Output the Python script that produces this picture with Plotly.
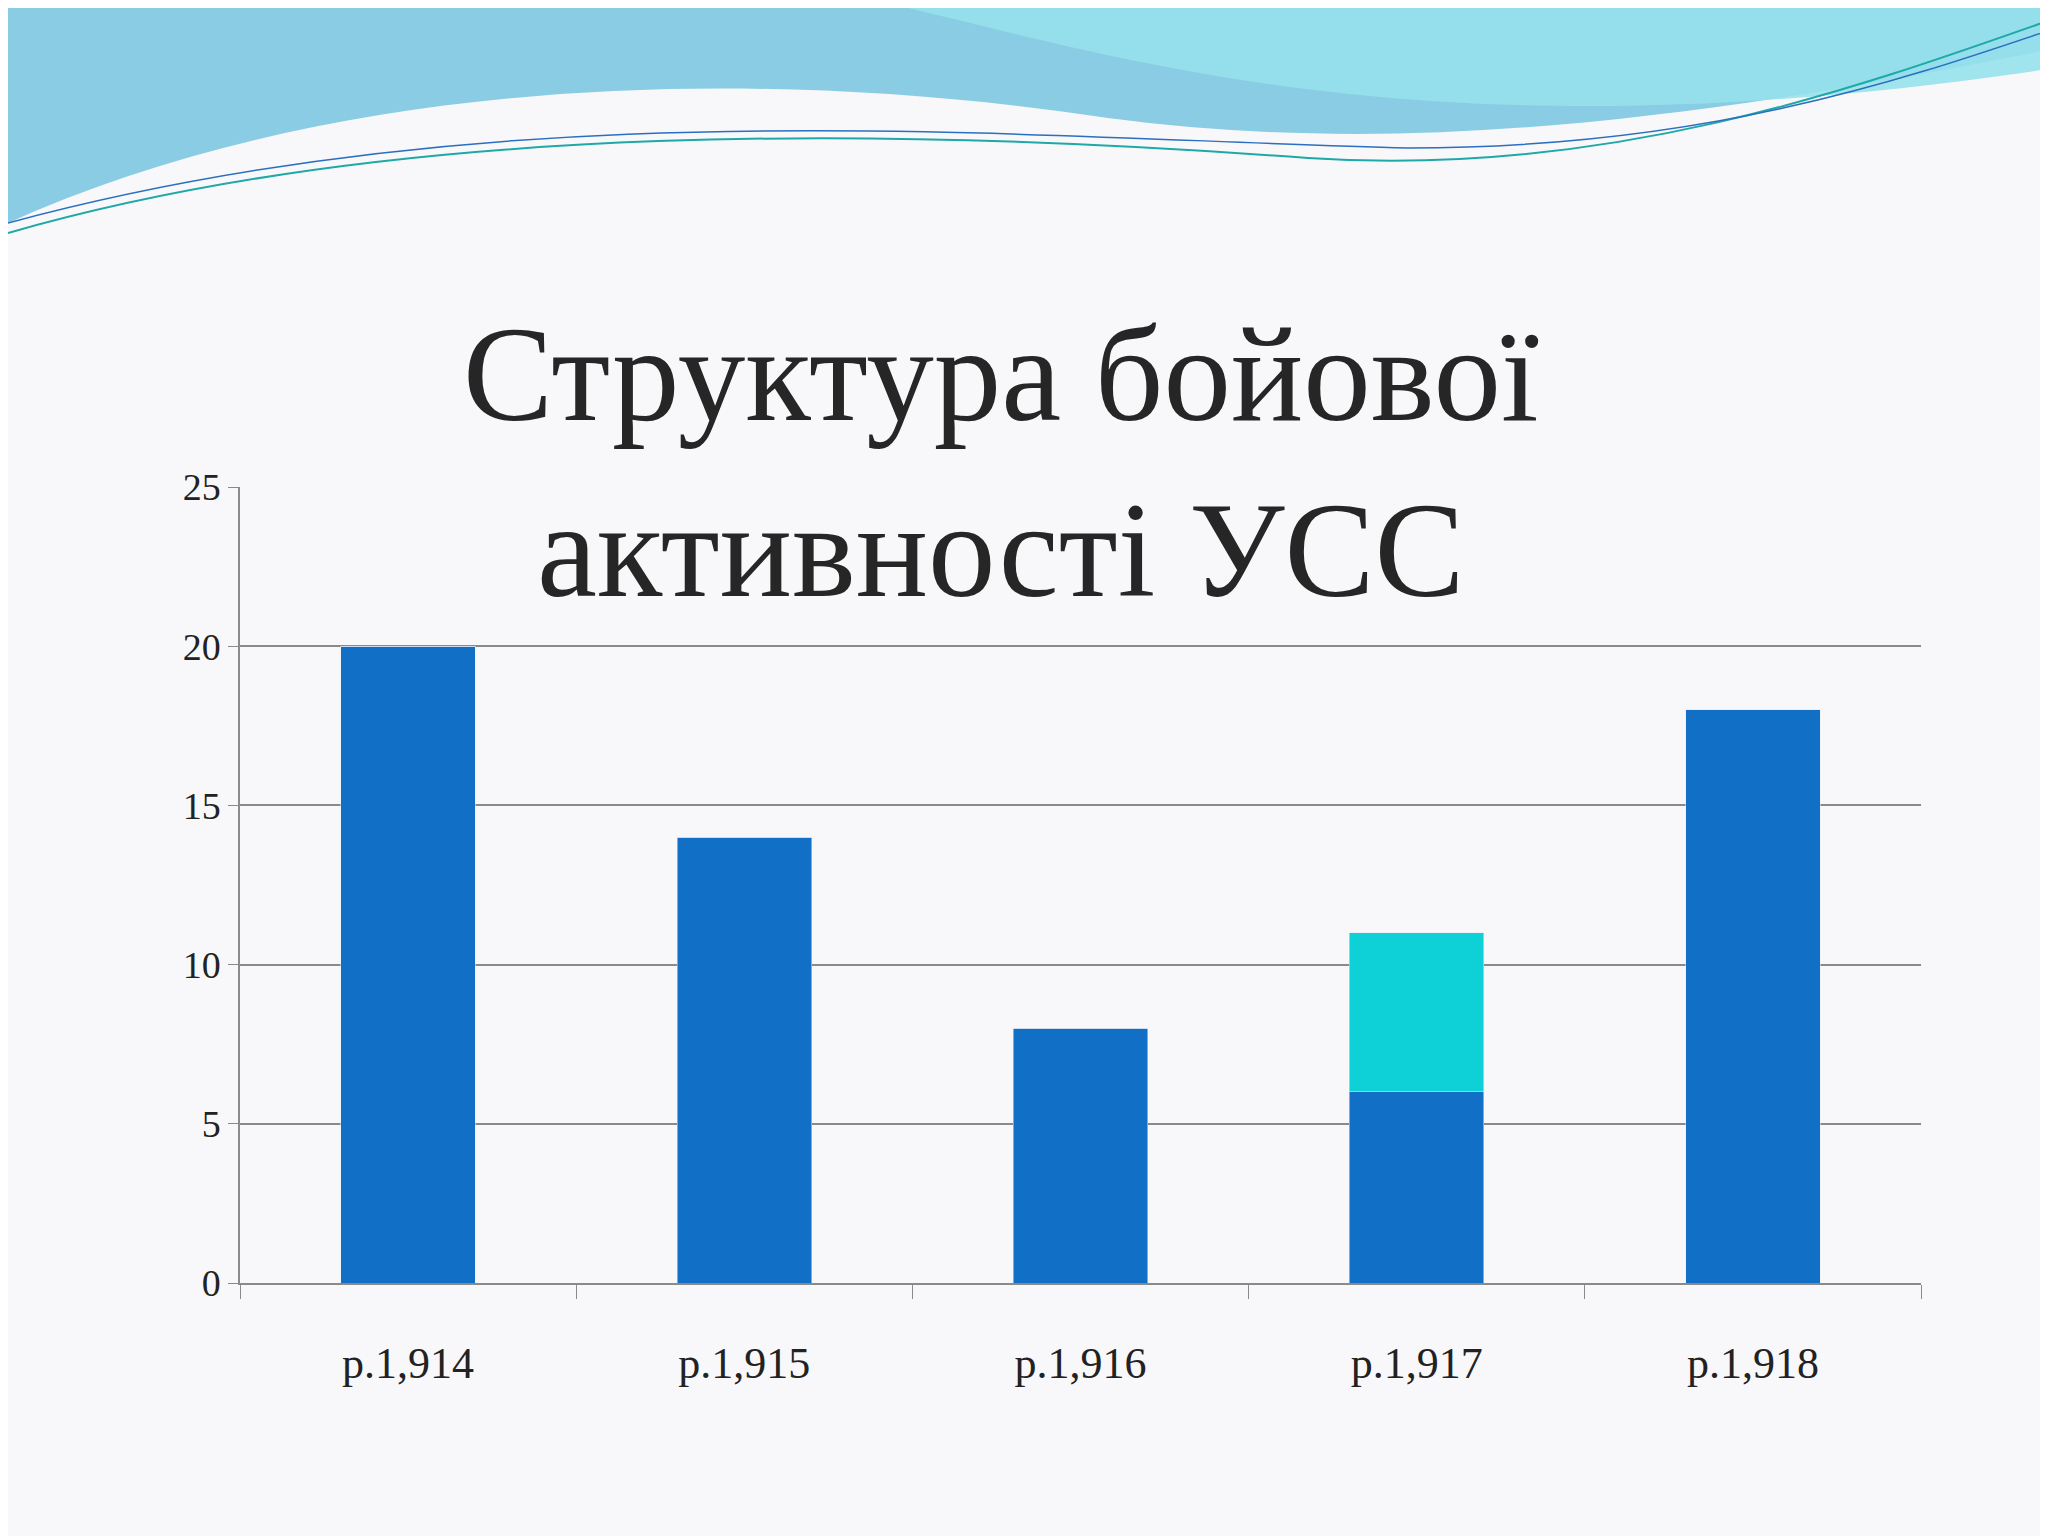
import plotly.graph_objects as go

categories = ["р.1,914", "р.1,915", "р.1,916", "р.1,917", "р.1,918"]
series_a = [20, 14, 8, 6, 18]
series_b = [0, 0, 0, 5, 0]
y_ticks = [0, 5, 10, 15, 20, 25]

fig = go.Figure()
fig.add_bar(x=categories, y=series_a, marker_color="#1170C6", width=0.4)
fig.add_bar(x=categories, y=series_b, marker_color="#0ED1D8", width=0.4)

W, H = 2048, 1536
L, R, T, B = 232, 135, 479, 261
PW, PH = W - L - R, H - T - B

def px(x, y):
    return f"{(x-L)/PW:.4f},{(H-B-y)/PH:.4f}"

shapes = [
    dict(type="path", xref="paper", yref="paper",
         path=f"M {px(0,0)} L {px(0,215)} C {px(300,80)} {px(700,50)} {px(1100,110)} C {px(1400,150)} {px(1700,110)} {px(2048,40)} L {px(2048,0)} Z",
         fillcolor="rgba(100,190,220,0.75)", line_width=0, layer="below"),
    dict(type="path", xref="paper", yref="paper",
         path=f"M {px(900,0)} C {px(1150,60)} {px(1450,150)} {px(2048,60)} L {px(2048,0)} Z",
         fillcolor="rgba(150,225,235,0.9)", line_width=0, layer="below"),
    dict(type="path", xref="paper", yref="paper",
         path=f"M {px(0,225)} C {px(400,110)} {px(900,120)} {px(1300,150)} C {px(1600,170)} {px(1850,80)} {px(2048,10)}",
         line=dict(color="#1FA8A8", width=2), layer="below"),
    dict(type="path", xref="paper", yref="paper",
         path=f"M {px(0,215)} C {px(500,80)} {px(1000,130)} {px(1400,140)} C {px(1700,140)} {px(1900,70)} {px(2048,20)}",
         line=dict(color="#2A6FC0", width=1.5), layer="below"),
]

ax, ay = [float(v) for v in px(993, 290).split(",")]

fig.update_layout(
    width=W, height=H, barmode="stack", showlegend=False,
    paper_bgcolor="#F8F8FA", plot_bgcolor="rgba(0,0,0,0)",
    margin=dict(l=L, r=R, t=T, b=B),
    font=dict(family="Liberation Serif", color="#222222", size=40),
    shapes=shapes,
    annotations=[dict(text="Структура бойової<br>активності УСС", x=ax, y=ay,
                      xref="paper", yref="paper", showarrow=False,
                      font=dict(family="Liberation Serif", size=135, color="#262626"))],
)
fig.update_yaxes(range=[0, 25], tickvals=y_ticks, showgrid=True, gridcolor="#8A8A8A",
                 gridwidth=1.5, showline=True, linecolor="#8A8A8A", linewidth=1.5,
                 ticks="outside", ticklen=10, tickcolor="#8A8A8A", zeroline=False,
                 tickfont=dict(size=38))
fig.update_xaxes(showline=True, linecolor="#8A8A8A", linewidth=1.5, ticks="outside",
                 ticklen=14, tickcolor="#8A8A8A", tickson="boundaries",
                 ticklabelstandoff=40, tickfont=dict(size=44))
fig.write_html("out.html")
